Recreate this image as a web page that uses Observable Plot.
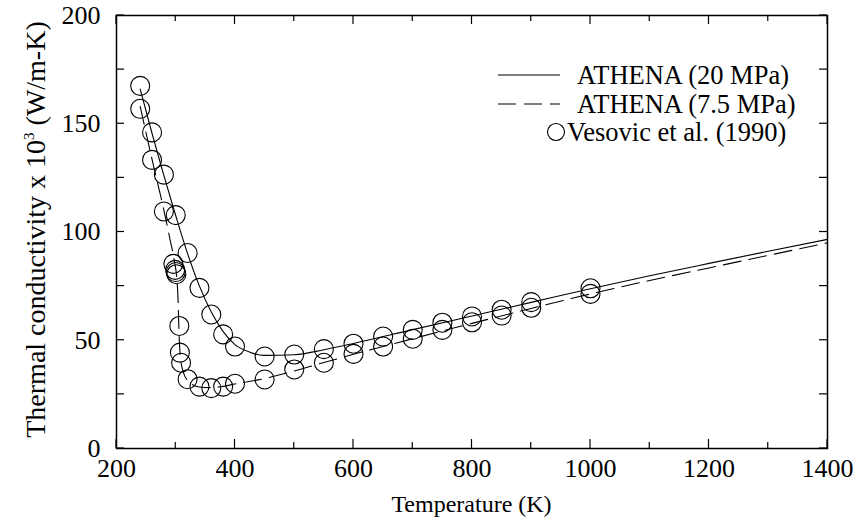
<!DOCTYPE html>
<html><head><meta charset="utf-8">
<script src="https://cdn.jsdelivr.net/npm/d3@7"></script>
<script src="https://cdn.jsdelivr.net/npm/@observablehq/plot@0.6"></script>
<style>body{margin:0;background:#fff} svg text{font-family:"Liberation Serif", serif !important;}</style>
</head><body><div id="chart"></div>
<script>
// Tick values
const xTicks = [200, 400, 600, 800, 1000, 1200, 1400];
const xMinor = [300, 500, 700, 900, 1100, 1300];
const yTicks = [0, 50, 100, 150, 200];
const yMinor = [25, 75, 125, 175];

// ATHENA model curves
const athena20T = [240, 260, 280, 300, 320, 340, 360, 380, 400, 425, 450, 500, 550, 600, 700, 800, 900, 1000, 1100, 1200, 1300, 1400];
const athena20K = [166, 145.5, 126, 107.5, 90, 75, 63, 54, 48, 44.5, 43, 43.3, 45.6, 48.5, 54.9, 61.2, 67.5, 73.8, 79.8, 85.5, 91.1, 96.6];
const athena75T = [240, 260, 280, 290, 298, 302, 304, 305, 306, 308, 312, 320, 340, 360, 380, 400, 450, 500, 550, 600, 700, 800, 900, 1000, 1100, 1200, 1300, 1400];
const athena75K = [158, 133.5, 110, 97, 86, 78, 68, 58, 50, 42, 36, 31.5, 28.4, 28.1, 28.7, 29.8, 32.3, 35.8, 39.7, 43.5, 50.7, 57.8, 64.7, 71.4, 77.6, 83.4, 89.2, 95];

// Vesovic et al. (1990) data
const ves20T = [240, 260, 280, 300, 320, 340, 360, 380, 400, 450, 500, 550, 600, 650, 700, 750, 800, 850, 900, 1000];
const ves20K = [167.5, 146, 126.5, 107.8, 90.3, 74.2, 61.9, 52.7, 47.1, 42.5, 43.4, 45.9, 48.4, 51.7, 54.8, 58.1, 61.0, 64.1, 67.6, 74.0];
const ves75T = [240, 260, 280, 296, 299, 300, 301, 306, 307, 309, 320, 340, 360, 380, 400, 450, 500, 550, 600, 650, 700, 750, 800, 850, 900, 1000];
const ves75K = [156.9, 133.3, 109.5, 85.3, 82.5, 81.5, 80.5, 56.6, 44.3, 39.6, 32, 28.6, 27.9, 28.6, 29.9, 31.9, 36.5, 39.6, 43.7, 47.1, 50.7, 54.8, 58.3, 61.4, 65.0, 71.4];

const legendLabels = ["ATHENA (20 MPa)", "ATHENA (7.5 MPa)", "Vesovic et al. (1990)"];
const xTitle = "Temperature (K)";
const yTitle = ["Thermal conductivity x 10", "3", " (W/m-K)"];

(function () {
const FONT = "'Liberation Serif', serif";
const zip = (T, K) => T.map((t, i) => ({T: t, k: K[i]}));
const a20 = zip(athena20T, athena20K);
const a75 = zip(athena75T, athena75K);
const vesData = zip(ves20T, ves20K).concat(zip(ves75T, ves75K));

const plot = Plot.plot({
  width: 859, height: 527,
  marginLeft: 116, marginRight: 32, marginTop: 15, marginBottom: 79,
  style: `font-family: ${FONT}; font-size: 26px; background: #fff; color: #000;`,
  x: {domain: [200, 1400]},
  y: {domain: [0, 200]},
  marks: [
    Plot.axisX({ticks: xTicks, tickSize: 0, tickPadding: 10, label: null, fontSize: 26, tickFormat: d => String(d)}),
    Plot.axisY({ticks: yTicks, tickSize: 0, tickPadding: 16, label: null, fontSize: 26, tickFormat: d => String(d)}),
    Plot.line(a20, {x: "T", y: "k", stroke: "#000", strokeWidth: 1.1, curve: "monotone-x"}),
    Plot.line(a75, {x: "T", y: "k", stroke: "#000", strokeWidth: 1.1, strokeDasharray: "18,8", curve: "monotone-x"}),
    Plot.dot(vesData, {x: "T", y: "k", r: 9.5, stroke: "#000", strokeWidth: 1.1, fill: "none"}),
    Plot.frame({stroke: "#000", strokeWidth: 1.5})
  ]
});
document.getElementById("chart").appendChild(plot);

const svg = d3.select(plot);
const sx = plot.scale("x"), sy = plot.scale("y");
const X = v => sx.apply(v), Y = v => sy.apply(v);
const pTop = Y(200), pBot = Y(0), pLeft = X(200), pRight = X(1400);
const g = svg.append("g").attr("stroke", "#000").attr("stroke-width", 1.2);
const tick = (x1, y1, x2, y2) => g.append("line").attr("x1", x1).attr("y1", y1).attr("x2", x2).attr("y2", y2);
xTicks.forEach(v => { tick(X(v), pBot, X(v), pBot - 9); tick(X(v), pTop, X(v), pTop + 9); });
xMinor.forEach(v => { tick(X(v), pBot, X(v), pBot - 6); tick(X(v), pTop, X(v), pTop + 6); });
yTicks.concat(yMinor).forEach(v => { tick(pLeft, Y(v), pLeft + 8, Y(v)); tick(pRight, Y(v), pRight - 8, Y(v)); });

// Axis titles
svg.append("text").attr("x", (pLeft + pRight) / 2).attr("y", 512).attr("text-anchor", "middle")
  .attr("font-size", 24).attr("fill", "#000").text(xTitle);
const yt = svg.append("text").attr("transform", `translate(45,${(pTop + pBot) / 2 - 2}) rotate(-90)`)
  .attr("text-anchor", "middle").attr("font-size", 28).attr("fill", "#000");
yt.append("tspan").text(yTitle[0]);
yt.append("tspan").attr("dy", -11).attr("font-size", 15).text(yTitle[1]);
yt.append("tspan").attr("dy", 11).text(yTitle[2]);

// Legend
const lg = svg.append("g").attr("font-size", 26.5).attr("fill", "#000").attr("text-anchor", "start");
lg.append("line").attr("x1", 498).attr("x2", 560).attr("y1", 75).attr("y2", 75).attr("stroke", "#000").attr("stroke-width", 1.1);
lg.append("line").attr("x1", 498).attr("x2", 560).attr("y1", 104).attr("y2", 104).attr("stroke", "#000").attr("stroke-width", 1.1).attr("stroke-dasharray", "18,8");
lg.append("circle").attr("cx", 556).attr("cy", 132).attr("r", 8.5).attr("fill", "none").attr("stroke", "#000").attr("stroke-width", 1.1);
lg.append("text").attr("x", 577).attr("y", 75).attr("dy", "0.35em").text(legendLabels[0]);
lg.append("text").attr("x", 577).attr("y", 104).attr("dy", "0.35em").text(legendLabels[1]);
lg.append("text").attr("x", 567).attr("y", 132).attr("dy", "0.35em").text(legendLabels[2]);
svg.selectAll("text").style("font-family", FONT);
})();
</script></body></html>
